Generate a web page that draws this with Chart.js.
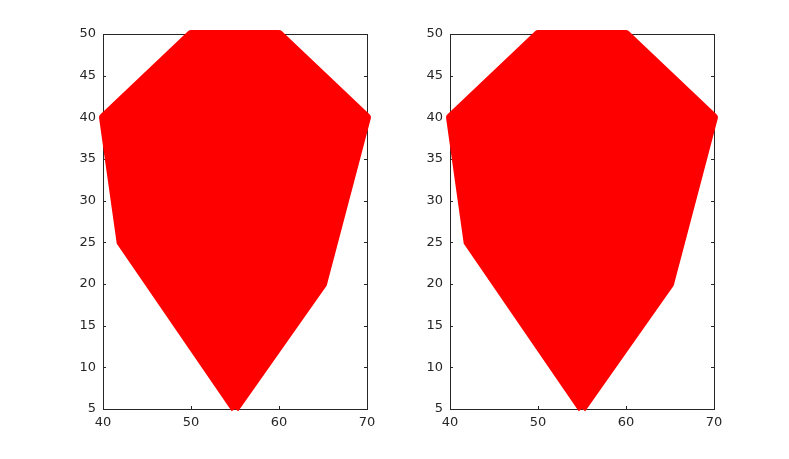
<!DOCTYPE html>
<html>
<head>
<meta charset="utf-8">
<script src="https://cdn.jsdelivr.net/npm/chart.js@4/dist/chart.umd.min.js"></script>
<style>
  html, body { margin:0; padding:0; background:#fff; }
  #wrap { position:relative; width:789px; height:459px; overflow:hidden; }
  .pane { position:absolute; top:0; width:400px; height:459px; }
</style>
</head>
<body>
<div id="wrap">
  <div class="pane" style="left:0"><canvas id="c1"></canvas></div>
  <div class="pane" style="left:347px"><canvas id="c2"></canvas></div>
</div>
<script>
// polygon vertices (closed), same shape in both panels
const polyX = [55, 65, 70, 60, 50, 40, 42, 55];
const polyY = [5, 20, 40, 50, 50, 40, 25, 5];
const xTicks = [40, 50, 60, 70];
const yTicks = [5, 10, 15, 20, 25, 30, 35, 40, 45, 50];

const AX = '#262626';

// MATLAB-ish box with inward ticks, drawn under the data
const boxPlugin = {
  id: 'box',
  beforeDatasetsDraw(chart) {
    const { ctx, chartArea: a, scales: { x, y } } = chart;
    ctx.save();
    ctx.strokeStyle = AX;
    ctx.lineWidth = 1;
    ctx.strokeRect(Math.round(a.left) + 0.5, Math.round(a.top) + 0.5,
                   Math.round(a.right - a.left), Math.round(a.bottom - a.top));
    ctx.beginPath();
    xTicks.forEach(v => {
      const px = Math.round(x.getPixelForValue(v)) + 0.5;
      ctx.moveTo(px, a.bottom); ctx.lineTo(px, a.bottom - 3);
      ctx.moveTo(px, a.top);    ctx.lineTo(px, a.top + 3);
    });
    yTicks.forEach(v => {
      const py = Math.round(y.getPixelForValue(v)) + 0.5;
      ctx.moveTo(a.left, py);  ctx.lineTo(a.left + 3, py);
      ctx.moveTo(a.right, py); ctx.lineTo(a.right - 3, py);
    });
    ctx.stroke();
    ctx.restore();
  }
};

function makeChart(id) {
  const ctx = document.getElementById(id).getContext('2d');
  return new Chart(ctx, {
    type: 'scatter',
    data: {
      datasets: [{
        data: polyX.map((v, i) => ({ x: v, y: polyY[i] })),
        showLine: true,
        fill: 'shape',
        backgroundColor: '#ff0000',
        borderColor: '#ff0000',
        borderWidth: 8,
        borderJoinStyle: 'round',
        pointRadius: 0,
        tension: 0,
        clip: false,
      }]
    },
    options: {
      responsive: true,
      maintainAspectRatio: false,
      animation: false,
      layout: { padding: { top: 34, right: 33, bottom: 0, left: 0 } },
      plugins: { legend: { display:false }, tooltip: { enabled:false } },
      scales: {
        x: {
          type: 'linear', min: 40, max: 70,
          afterFit: s => { s.height = 50; },
          afterBuildTicks: s => { s.ticks = xTicks.map(v => ({ value: v })); },
          grid: { display: false, drawTicks: false, tickLength: 0 },
          border: { display: false },
          ticks: { color: AX, padding: 6, font: { family: 'DejaVu Sans', size: 13 } },
        },
        y: {
          type: 'linear', min: 5, max: 50,
          afterFit: s => { s.width = 103; },
          afterBuildTicks: s => { s.ticks = yTicks.map(v => ({ value: v })); },
          grid: { display: false, drawTicks: false, tickLength: 0 },
          border: { display: false },
          ticks: { color: AX, padding: 7, font: { family: 'DejaVu Sans', size: 13 } },
        },
      },
    },
    plugins: [boxPlugin],
  });
}

makeChart('c1');
makeChart('c2');
</script>
</body>
</html>
